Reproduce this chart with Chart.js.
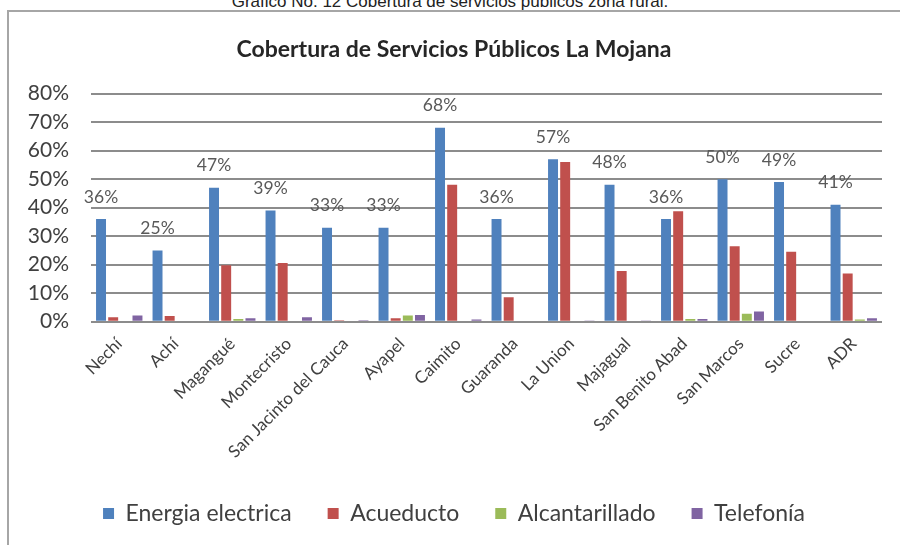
<!DOCTYPE html>
<html>
<head>
<meta charset="utf-8">
<script src="https://cdn.jsdelivr.net/npm/chart.js@4.4.0/dist/chart.umd.min.js"></script>
<style>
    body { margin: 0; width: 900px; height: 545px; overflow: hidden; background: #fff; position: relative; }
    #caption { position: absolute; top: -7px; left: 0; width: 900px; text-align: center; font-family: "Liberation Sans", Arial, sans-serif; font-size: 17px; line-height: 17px; color: #222; }
    #frame { position: absolute; left: 7px; top: 10px; width: 900px; height: 545px; border-left: 2px solid #a6a6a6; border-top: 2px solid #a6a6a6; }
    #chartBox { position: absolute; left: 0; top: 0; width: 900px; height: 545px; }
</style>
</head>
<body>
<div id="caption">Gráfico No. 12 Cobertura de servicios públicos zona rural.</div>
<div id="frame"></div>
<div id="chartBox"><canvas id="coberturaChart" width="900" height="545"></canvas></div>
<script>
// municipios
const municipios = ["Nechí", "Achí", "Magangué", "Montecristo", "San Jacinto del Cauca", "Ayapel", "Caimito",
    "Guaranda", "La Union", "Majagual", "San Benito Abad", "San Marcos", "Sucre", "ADR"];

// valores en %
const energiaElectrica = [36, 25, 47, 39, 33, 33, 68, 36, 57, 48, 36, 50, 49, 41];
const acueducto = [1.6, 2, 19.8, 20.6, 0.5, 1.2, 48, 8.6, 56, 17.8, 38.7, 26.5, 24.5, 16.9];
const alcantarillado = [0, 0, 1, 0, 0, 2.2, 0, 0, 0, 0, 1, 2.8, 0, 0.8];
const telefonia = [2.2, 0, 1.2, 1.6, 0.5, 2.4, 0.8, 0, 0.3, 0.3, 1, 3.6, 0, 1.2];

const yTicks = [0, 10, 20, 30, 40, 50, 60, 70, 80];

const textColor = '#404040';
const fontName = 'Lato, "Open Sans", sans-serif';

// etiquetas encima de las barras de energia
const valueLabels = {
    id: 'valueLabels',
    afterDatasetsDraw(chart) {
        const ctx = chart.ctx;
        const meta = chart.getDatasetMeta(0);
        ctx.save();
        ctx.font = '17.5px ' + fontName;
        ctx.fillStyle = '#595959';
        ctx.textAlign = 'center';
        ctx.textBaseline = 'middle';
        meta.data.forEach((bar, i) => {
            ctx.fillText(energiaElectrica[i] + '%', bar.x, bar.y - 22);
        });
        ctx.restore();
    }
};

const ctx = document.getElementById('coberturaChart').getContext('2d');

const myChart = new Chart(ctx, {
    type: 'bar',
    data: {
        labels: municipios,
        datasets: [
            { label: 'Energia electrica', data: energiaElectrica, backgroundColor: '#4F81BD' },
            { label: 'Acueducto', data: acueducto, backgroundColor: '#C0504D' },
            { label: 'Alcantarillado', data: alcantarillado, backgroundColor: '#9BBB59' },
            { label: 'Telefonía', data: telefonia, backgroundColor: '#8064A2' },
        ],
    },
    options: {
        responsive: false,
        animation: false,
        layout: {
            padding: { left: 26, right: 18, top: 0, bottom: 10 },
        },
        datasets: {
            bar: { categoryPercentage: 0.86, barPercentage: 0.82 },
        },
        plugins: {
            title: {
                display: true,
                text: 'Cobertura de Servicios Públicos La Mojana',
                color: '#262626',
                font: { family: fontName, size: 23, weight: 'bold' },
                padding: { top: 36, bottom: 30 },
            },
            legend: {
                display: true,
                position: 'bottom',
                labels: {
                    color: textColor,
                    font: { family: fontName, size: 23 },
                    boxWidth: 11,
                    boxHeight: 11,
                    padding: 36,
                },
            },
            tooltip: { enabled: false },
        },
        scales: {
            x: {
                grid: { display: false },
                border: { display: false },
                ticks: {
                    color: textColor,
                    font: { family: fontName, size: 17 },
                    maxRotation: 45,
                    minRotation: 45,
                    padding: 4,
                },
            },
            y: {
                min: 0,
                max: 80,
                afterBuildTicks: (scale) => {
                    scale.ticks = yTicks.map(v => ({ value: v }));
                },
                afterFit: (scale) => {
                    scale.width = 65;
                },
                grid: { color: '#8c8c8c', lineWidth: 2, drawTicks: false },
                border: { display: false },
                ticks: {
                    color: textColor,
                    font: { family: fontName, size: 21 },
                    padding: 22,
                    callback: (value) => value + '%',
                },
            },
        },
    },
    plugins: [valueLabels],
});
</script>
</body>
</html>
